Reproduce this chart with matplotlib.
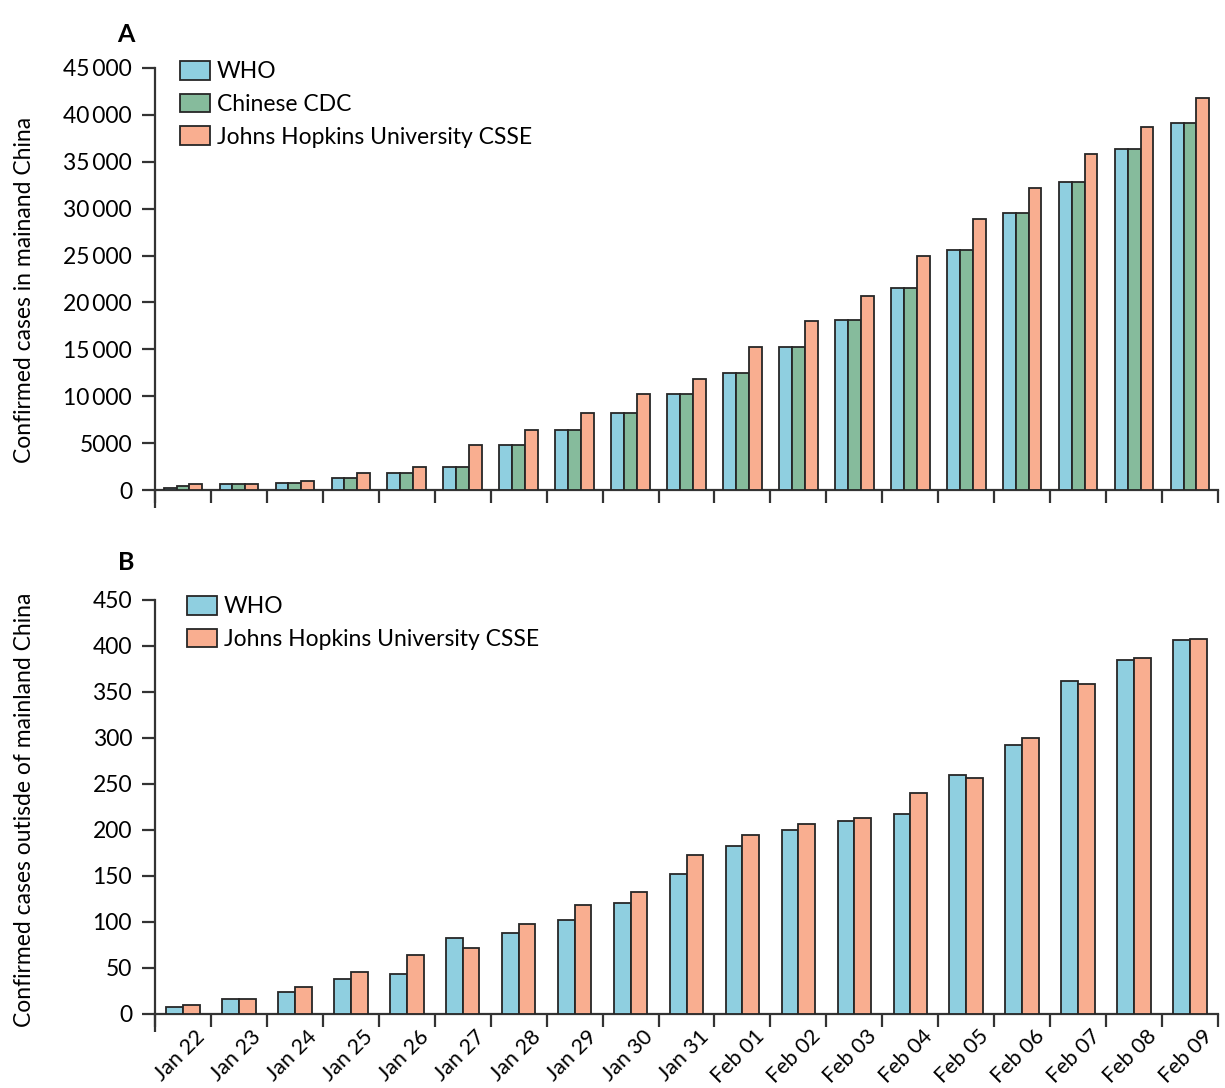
import matplotlib
matplotlib.use("Agg")
import matplotlib.pyplot as plt
import matplotlib.transforms as mtransforms
import numpy as np

plt.rcParams['font.family'] = ['Lato', 'DejaVu Sans']

dates = ['Jan 22', 'Jan 23', 'Jan 24', 'Jan 25', 'Jan 26', 'Jan 27', 'Jan 28', 'Jan 29',
         'Jan 30', 'Jan 31', 'Feb 01', 'Feb 02', 'Feb 03', 'Feb 04', 'Feb 05', 'Feb 06',
         'Feb 07', 'Feb 08', 'Feb 09']

who_china = [200, 620, 790, 1230, 1820, 2460, 4750, 6380, 8170, 10280, 12440, 15200, 18080,
             21500, 25600, 29500, 32800, 36350, 39150]
cdc_china = [390, 620, 790, 1230, 1820, 2460, 4750, 6380, 8170, 10280, 12440, 15200, 18080,
             21500, 25600, 29500, 32800, 36350, 39150]
jhu_china = [600, 640, 930, 1850, 2460, 4830, 6400, 8180, 10200, 11850, 15200, 18060, 20700,
             24900, 28900, 32200, 35850, 38700, 41800]

who_out = [8, 16, 24, 38, 44, 83, 88, 102, 121, 152, 183, 200, 210, 217, 260, 292, 362, 385, 407]
jhu_out = [10, 16, 29, 46, 64, 72, 98, 118, 133, 173, 195, 207, 213, 240, 257, 300, 359, 387, 408]

yticks_a = [0, 5000, 10000, 15000, 20000, 25000, 30000, 35000, 40000, 45000]
yticklabels_a = ['0', '5000', '10\u2009000', '15\u2009000', '20\u2009000', '25\u2009000',
                 '30\u2009000', '35\u2009000', '40\u2009000', '45\u2009000']
yticks_b = [0, 50, 100, 150, 200, 250, 300, 350, 400, 450]

C_WHO = '#8fcfe0'
C_CDC = '#86bb9c'
C_JHU = '#f9ae90'
EDGE = '#262626'
AXC = '#333333'

W, H = 1225, 1088
fig = plt.figure(figsize=(W / 100, H / 100), dpi=100)

def axrect(x0, x1, ytop, ybot):
    return [x0 / W, 1 - ybot / H, (x1 - x0) / W, (ybot - ytop) / H]

axA = fig.add_axes(axrect(155, 1218, 68, 490))
axB = fig.add_axes(axrect(155, 1218, 600, 1014))

x = np.arange(len(dates))
FS_TICK = 16.5
FS_LAB = 16.5
FS_X = 15.5

def style(ax, ymax):
    ax.set_xlim(-0.5, len(dates) - 0.5)
    ax.set_ylim(0, ymax)
    for s in ['top', 'right']:
        ax.spines[s].set_visible(False)
    for s in ['left', 'bottom']:
        ax.spines[s].set_linewidth(1.6)
        ax.spines[s].set_color(AXC)
    ax.set_xticks(np.arange(len(dates) + 1) - 0.5)
    ax.set_xticklabels([])
    ax.tick_params(axis='x', which='major', direction='out', length=9.5, width=1.6, color=AXC)
    ax.tick_params(axis='y', which='major', direction='out', length=9.5, width=1.6, color=AXC,
                   labelsize=FS_TICK, pad=7)

def spine_ext(ax):
    p0 = ax.transAxes.transform((0, 0))
    inv = fig.transFigure.inverted()
    a = inv.transform(p0)
    b = inv.transform((p0[0], p0[1] - 18))
    fig.add_artist(plt.Line2D([a[0], b[0]], [a[1], b[1]], transform=fig.transFigure,
                              color=AXC, lw=1.6, solid_capstyle='butt'))

lw = 1.3
# Panel A
bwA = 0.23
axA.bar(x - bwA, who_china, bwA, color=C_WHO, edgecolor=EDGE, linewidth=lw, label='WHO', zorder=3)
axA.bar(x, cdc_china, bwA, color=C_CDC, edgecolor=EDGE, linewidth=lw, label='Chinese CDC', zorder=3)
axA.bar(x + bwA, jhu_china, bwA, color=C_JHU, edgecolor=EDGE, linewidth=lw,
        label='Johns Hopkins University CSSE', zorder=3)
style(axA, 45000)
axA.set_yticks(yticks_a)
axA.set_yticklabels(yticklabels_a)
axA.set_ylabel('Confirmed cases in mainand China', fontsize=FS_LAB)
axA.yaxis.set_label_coords(-0.113, 0.474)
legkw = dict(loc='upper left', frameon=False, fontsize=FS_LAB, handlelength=1.31,
             handleheight=0.87, handletextpad=0.3, labelspacing=0.5, borderpad=0,
             borderaxespad=0, bbox_transform=fig.transFigure)
axA.legend(bbox_to_anchor=(180 / W, 1 - 61 / H), **legkw)

# Panel B
bwB = 0.3
axB.bar(x - bwB / 2, who_out, bwB, color=C_WHO, edgecolor=EDGE, linewidth=lw, label='WHO', zorder=3)
axB.bar(x + bwB / 2, jhu_out, bwB, color=C_JHU, edgecolor=EDGE, linewidth=lw,
        label='Johns Hopkins University CSSE', zorder=3)
style(axB, 450)
axB.set_yticks(yticks_b)
axB.set_yticklabels([str(v) for v in yticks_b])
axB.set_ylabel('Confirmed cases outisde of mainland China', fontsize=FS_LAB)
axB.yaxis.set_label_coords(-0.113, 0.493)
axB.legend(bbox_to_anchor=(187 / W, 1 - 596 / H), **legkw)

axB.set_xticks(x, minor=True)
axB.set_xticklabels(dates, minor=True, rotation=45, ha='right', rotation_mode='anchor',
                    fontsize=FS_X)
axB.tick_params(axis='x', which='minor', length=0, pad=9)
offset = mtransforms.ScaledTranslation(12 / 100, 0, fig.dpi_scale_trans)
for lab in axB.get_xticklabels(minor=True):
    lab.set_transform(lab.get_transform() + offset)

spine_ext(axA)
spine_ext(axB)

fig.text(126 / W, 1 - 34 / H, 'A', fontsize=18, fontweight='bold', ha='center', va='center')
fig.text(126 / W, 1 - 562 / H, 'B', fontsize=18, fontweight='bold', ha='center', va='center')

fig.savefig('out.png', dpi=100)
